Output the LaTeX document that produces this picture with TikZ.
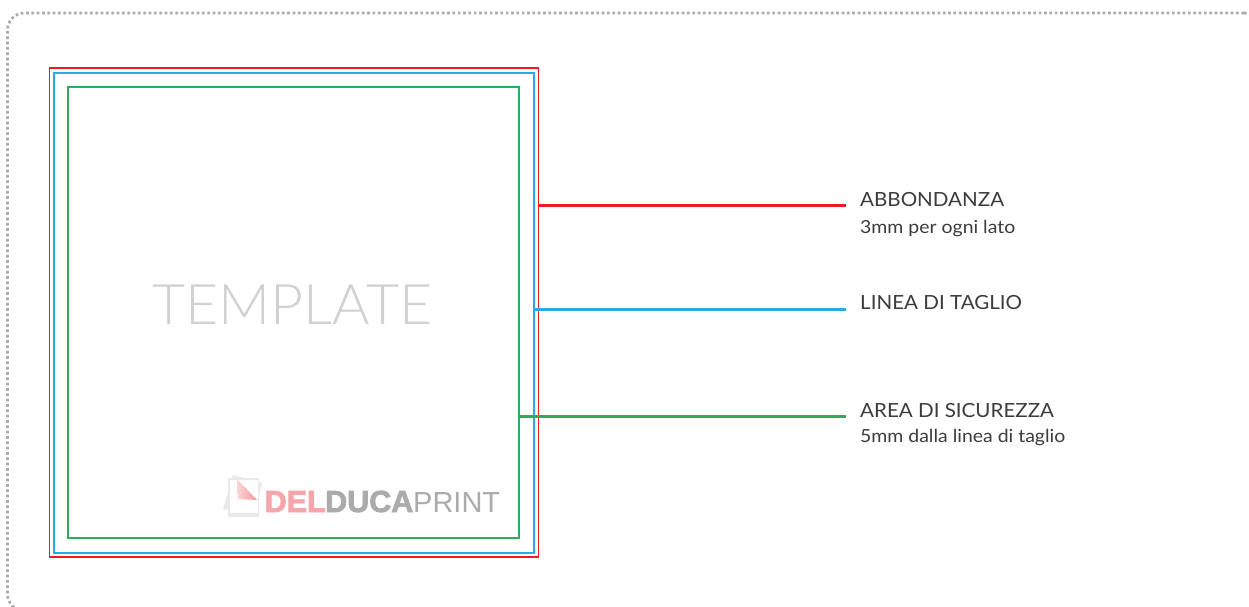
\documentclass[tikz,border=0pt]{standalone}
\usepackage{fontspec}
\setmainfont{Lato}
\newfontfamily\titlefont[FakeStretch=1.055]{Lato}
\newfontfamily\subfont[FakeStretch=1.08]{Lato}
\newfontfamily\lightfont[FakeStretch=1.022]{Lato Light}
\newfontfamily\logofont{Liberation Sans}
\newfontfamily\logoboldfont[FakeBold=2.5]{Liberation Sans Bold}
\definecolor{cutred}{HTML}{ED1C24}
\definecolor{cutblue}{HTML}{29ABE2}
\definecolor{safegreen}{HTML}{2FAD5F}
\definecolor{labelgray}{HTML}{3C3C3B}
\definecolor{logopink}{HTML}{F5A6AA}
\definecolor{logogray}{HTML}{ABABAB}
\definecolor{sheetgray}{HTML}{E8E9EA}
\tikzset{
  x=1pt,y=-1pt,
  frame/.style={draw,inner sep=0pt,outer sep=0pt,anchor=north west,fill=none},
  title/.style={anchor=base west,inner sep=0pt,text=labelgray,font=\titlefont\fontsize{19.5}{22}\selectfont},
  sub/.style={anchor=base west,inner sep=0pt,text=labelgray,font=\subfont\fontsize{18}{20}\selectfont},
  logotext/.style={anchor=base west,inner sep=0pt,font=\logoboldfont\fontsize{30.5}{32}\selectfont},
  dots/.style={color=black!33,line width=2.7pt,dash pattern=on 2.7pt off 2.63pt},
}
\begin{document}
\begin{tikzpicture}
\useasboundingbox (0,0) rectangle (1249,606);
\fill[white] (0,0) rectangle (1249,606);
\begin{scope}
\clip (0,0) rectangle (1249,606);
\draw[dots]
  (1244,13) -- (24.5,13)
  .. controls (15,13) and (7.5,20.5) .. (7.5,30) -- (7.5,594)
  .. controls (7.5,603) and (15,611) .. (24.5,611);
\draw[dots]
  (1244,13) .. controls (1250,13) and (1255,16) .. (1258,20);
\end{scope}
% template frames
\node[frame,draw=cutred,line width=1.5pt,minimum width=489pt,minimum height=489pt] (redbox) at (49.5,68) {};
\node[frame,draw=cutblue,line width=2pt,minimum width=480pt,minimum height=480pt] (bluebox) at (53.5,72.5) {};
\node[frame,draw=safegreen,line width=2pt,minimum width=451pt,minimum height=451pt] (greenbox) at (68,87) {};
\node[anchor=base west,inner sep=0pt,text=black!18,font=\lightfont\fontsize{56}{60}\selectfont] (tpl) at (152,324) {TEMPLATE};
% logo
\fill[sheetgray] (233,475) -- (262,483) -- (253,517) -- (223,509) -- cycle;
\fill[sheetgray] (228,478) -- (259,478) -- (259,517) -- (228,517) -- cycle;
\fill[white] (230,480) -- (257.5,480) -- (257.5,513) -- (230,513) -- cycle;
\shade[left color=logopink!45,right color=logopink!90!red] (237,479) -- (257,500) -- (238,499) -- cycle;
\node[logotext,text=logopink] (del) at (264.5,512) {DEL};
\node[logotext,text=logogray] (duca) at (325,512) {DUCA};
\node[logotext,text=logogray,font=\logofont\fontsize{29}{32}\selectfont] (print) at (413,512) {PRINT};
% labels
\node[title] (t1) at (860,206) {ABBONDANZA};
\node[sub] (s1) at (860,233) {3mm per ogni lato};
\node[title] (t2) at (860,309) {LINEA DI TAGLIO};
\node[title] (t3) at (860,417) {AREA DI SICUREZZA};
\node[sub] (s3) at (860,442) {5mm dalla linea di taglio};
% leaders
\coordinate (e1) at (846,205.5);
\coordinate (e2) at (846,309.3);
\coordinate (e3) at (846,416.6);
\draw[line width=2.4pt,cutred] (e1 -| redbox.east) -- (e1);
\draw[line width=2.4pt,cutblue] (e2 -| bluebox.east) -- (e2);
\draw[line width=2.4pt,safegreen] (e3 -| greenbox.east) -- (e3);
\end{tikzpicture}
\end{document}
